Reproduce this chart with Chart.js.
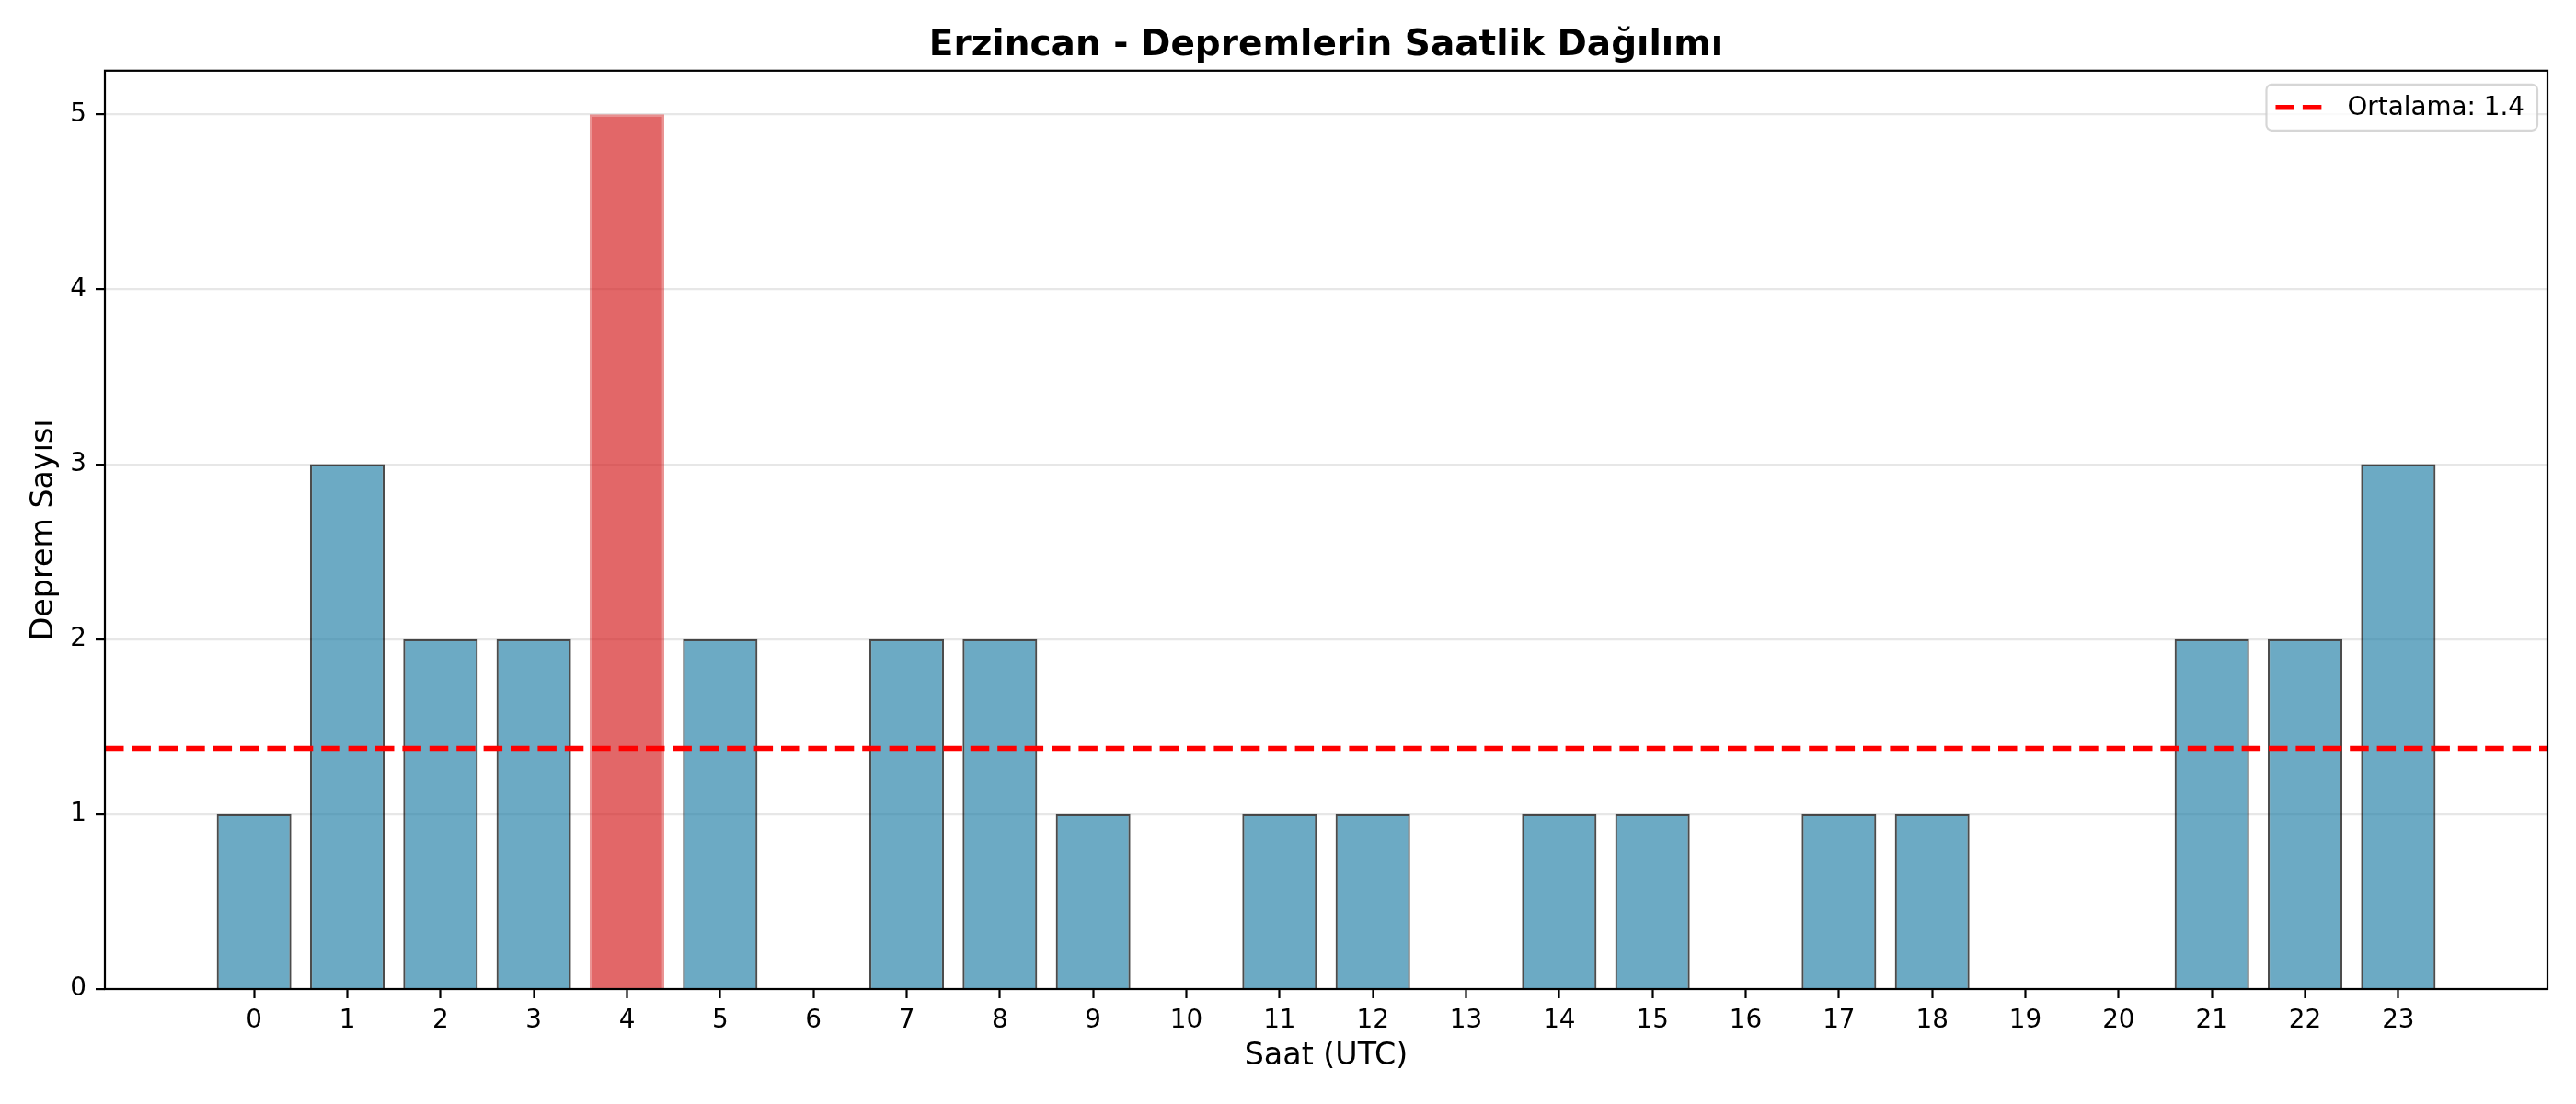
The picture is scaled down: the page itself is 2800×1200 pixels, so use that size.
<!DOCTYPE html>
<html>
<head>
<meta charset="utf-8">
<script src="https://cdn.jsdelivr.net/npm/chart.js@4/dist/chart.umd.min.js"></script>
<style>
  html, body { margin: 0; padding: 0; background: #fff; }
</style>
</head>
<body>
<canvas id="chart" width="2800" height="1200"></canvas>
<script>
const hours = [0, 1, 2, 3, 4, 5, 6, 7, 8, 9, 10, 11, 12, 13, 14, 15, 16, 17, 18, 19, 20, 21, 22, 23];
const counts = [1, 3, 2, 2, 5, 2, 0, 2, 2, 1, 0, 1, 1, 0, 1, 1, 0, 1, 1, 0, 0, 2, 2, 3];
const yTicks = [0, 1, 2, 3, 4, 5];
const meanValue = counts.reduce((a, b) => a + b, 0) / counts.length;
const meanLabel = 'Ortalama: ' + meanValue.toFixed(1);

const blue = 'rgba(46, 134, 171, 0.7)';
const red = 'rgba(214, 39, 40, 0.7)';
const peak = Math.max(...counts);

Chart.defaults.font.family = '"DejaVu Sans", sans-serif';
Chart.defaults.color = '#000';

// matplotlib style box round the axes, drawn over the bars
const frame = {
  id: 'frame',
  afterDatasetsDraw(chart) {
    const {ctx, chartArea: a} = chart;
    ctx.save();
    ctx.strokeStyle = '#000';
    ctx.lineWidth = 2.2;
    ctx.strokeRect(a.left, a.top, a.right - a.left, a.bottom - a.top);
    ctx.restore();
  }
};

// legend in the top right corner of the axes
const cornerLegend = {
  id: 'cornerLegend',
  afterDraw(chart) {
    const ds = chart.data.datasets[0];
    const {ctx, chartArea: a} = chart;
    ctx.save();
    ctx.font = '27.8px "DejaVu Sans"';
    const tw = ctx.measureText(ds.label).width;
    const w = 10 + 56 + 22 + tw + 14;
    const h = 50;
    const x = a.right - 11 - w;
    const y = a.top + 15;
    ctx.beginPath();
    ctx.roundRect(x, y, w, h, 6);
    ctx.fillStyle = 'rgba(255,255,255,0.8)';
    ctx.fill();
    ctx.strokeStyle = 'rgba(204,204,204,0.8)';
    ctx.lineWidth = 2.2;
    ctx.stroke();

    ctx.beginPath();
    ctx.setLineDash(ds.borderDash);
    ctx.strokeStyle = ds.borderColor;
    ctx.lineWidth = ds.borderWidth;
    ctx.moveTo(x + 10, y + h / 2);
    ctx.lineTo(x + 66, y + h / 2);
    ctx.stroke();
    ctx.setLineDash([]);

    ctx.fillStyle = '#000';
    ctx.textBaseline = 'middle';
    ctx.fillText(ds.label, x + 88, y + h / 2 + 1);
    ctx.restore();
  }
};

new Chart(document.getElementById('chart'), {
  data: {
    datasets: [{
      type: 'line',
      label: meanLabel,
      data: [{x: -1.6, y: meanValue}, {x: 24.6, y: meanValue}],
      borderColor: 'red',
      borderWidth: 5.5,
      borderDash: [20.5, 8.9],
      pointRadius: 0,
      order: 0
    }, {
      type: 'bar',
      label: 'Deprem',
      data: hours.map((h, i) => ({x: h, y: counts[i]})),
      backgroundColor: counts.map(c => c === peak ? red : blue),
      borderColor: counts.map(c => c === peak ? 'rgba(214, 39, 40, 0.5)' : 'rgba(0, 0, 0, 0.7)'),
      borderWidth: 2.2,
      categoryPercentage: 1,
      barPercentage: 0.8,
      order: 1
    }]
  },
  plugins: [frame, cornerLegend],
  options: {
    responsive: false,
    animation: false,
    devicePixelRatio: 1,
    layout: {
      padding: {left: 0, right: 31, top: 0, bottom: 0}
    },
    plugins: {
      legend: {display: false},
      tooltip: {enabled: false},
      title: {
        display: true,
        text: 'Erzincan - Depremlerin Saatlik Dağılımı',
        fullSize: false,
        font: {size: 39, weight: 'bold'},
        padding: {top: 26, bottom: 4}
      }
    },
    scales: {
      x: {
        type: 'linear',
        min: -1.6,
        max: 24.6,
        offset: false,
        afterFit(scale) { scale.height = 125; },
        afterBuildTicks(scale) { scale.ticks = hours.map(h => ({value: h})); },
        grid: {
          offset: false,
          drawOnChartArea: false,
          drawTicks: true,
          tickLength: 10,
          tickColor: '#000',
          tickWidth: 2.2
        },
        border: {display: false},
        ticks: {
          font: {size: 27.8},
          padding: 8,
          maxRotation: 0,
          autoSkip: false
        },
        title: {
          display: true,
          text: 'Saat (UTC)',
          font: {size: 33.3},
          padding: {top: 0, bottom: 32}
        }
      },
      y: {
        type: 'linear',
        min: 0,
        max: 5.25,
        afterFit(scale) { scale.width = 114; },
        afterBuildTicks(scale) { scale.ticks = yTicks.map(v => ({value: v})); },
        grid: {
          color: 'rgba(176, 176, 176, 0.3)',
          lineWidth: 2.2,
          tickLength: 10,
          tickColor: '#000',
          tickWidth: 2.2
        },
        border: {display: false},
        ticks: {
          font: {size: 27.8},
          padding: 10
        },
        title: {
          display: true,
          text: 'Deprem Sayısı',
          font: {size: 33.3},
          padding: {top: 28, bottom: 0}
        }
      }
    }
  }
});
</script>
</body>
</html>
